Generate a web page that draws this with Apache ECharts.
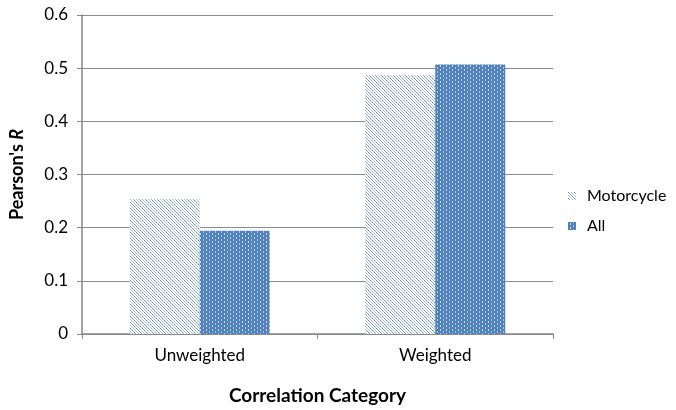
<!DOCTYPE html>
<html>
<head>
<meta charset="utf-8">
<script src="https://cdn.jsdelivr.net/npm/echarts@6/dist/echarts.min.js"></script>
<style>
  html, body { margin: 0; padding: 0; background: #fff; overflow: hidden; }
  #chart { width: 676px; height: 410px; }
</style>
</head>
<body>
<div id="chart"></div>
<script>
// Correlation strength by category
const categories = ['Unweighted', 'Weighted'];
const seriesNames = ['Motorcycle', 'All'];
const motorcycleValues = [0.254, 0.487];
const allValues = [0.194, 0.507];
const yTicks = { min: 0, max: 0.6, interval: 0.1 };

const FONT = 'Lato, "Open Sans", sans-serif';
const BLUE = '#4f81bd';

// Dotted diagonal hatch fill
function dottedHatch() {
  const c = document.createElement('canvas');
  c.width = 6; c.height = 6;
  const g = c.getContext('2d');
  g.fillStyle = '#ffffff';
  g.fillRect(0, 0, 6, 6);
  for (let i = 0; i < 6; i++) {
    g.fillStyle = (i % 2 === 0) ? 'rgba(79,129,189,0.95)' : 'rgba(79,129,189,0.65)';
    g.fillRect(i, i, 1, 1);
    g.fillStyle = 'rgba(79,129,189,0.5)';
    g.fillRect((i + 3) % 6, i, 1, 1);
  }
  return c;
}

// Dense blue grid fill
function denseGrid() {
  const c = document.createElement('canvas');
  c.width = 6; c.height = 4;
  const g = c.getContext('2d');
  g.fillStyle = BLUE;
  g.fillRect(0, 0, 6, 4);
  g.fillStyle = 'rgba(220,230,245,0.9)';
  g.fillRect(2, 1, 1, 2);
  g.fillStyle = 'rgba(200,215,240,0.8)';
  g.fillRect(5, 0, 1, 1);
  g.fillRect(5, 3, 1, 1);
  return c;
}

const chart = echarts.init(document.getElementById('chart'), null, { renderer: 'canvas' });

chart.setOption({
  animation: false,
  backgroundColor: '#ffffff',
  textStyle: { fontFamily: FONT },
  grid: { left: 71, right: 123, top: 15, bottom: 67, containLabel: false },
  legend: {
    orient: 'vertical',
    left: 568,
    top: 186,
    padding: 0,
    itemWidth: 8,
    itemHeight: 8,
    itemGap: 10,
    icon: 'rect',
    textStyle: { fontFamily: FONT, fontSize: 16, color: '#000', lineHeight: 20, padding: [0, 0, 0, 6] },
    data: seriesNames
  },
  xAxis: {
    type: 'category',
    data: categories,
    name: 'Correlation Category',
    nameLocation: 'middle',
    nameGap: 52,
    nameTextStyle: { fontFamily: FONT, fontSize: 19, fontWeight: 'bold', color: '#000' },
    axisLine: { lineStyle: { color: '#868686', width: 1.5 } },
    axisTick: { show: true, length: 5, alignWithLabel: false, lineStyle: { color: '#868686' } },
    axisLabel: { fontFamily: FONT, fontSize: 17, color: '#000', margin: 13 }
  },
  yAxis: {
    type: 'value',
    min: yTicks.min,
    max: yTicks.max,
    interval: yTicks.interval,
    name: "{b|Pearson's }{i|R}",
    nameLocation: 'middle',
    nameGap: 56,
    nameRotate: 90,
    nameTextStyle: {
      fontSize: 18,
      fontWeight: 'bold',
      fontFamily: FONT,
      rich: {
        b: { fontFamily: FONT, fontSize: 18, fontWeight: 'bold', color: '#000' },
        i: { fontFamily: FONT, fontSize: 18, fontWeight: 'bold', fontStyle: 'italic', color: '#000' }
      }
    },
    axisLine: { show: true, lineStyle: { color: '#868686', width: 1.5 } },
    axisTick: { show: true, length: 5, lineStyle: { color: '#868686' } },
    splitLine: { lineStyle: { color: '#8c8c8c', width: 1 } },
    axisLabel: {
      fontFamily: FONT, fontSize: 17, color: '#000', margin: 14,
      formatter: v => (Math.round(v * 10) / 10).toString()
    }
  },
  series: [
    {
      name: seriesNames[0],
      type: 'bar',
      data: motorcycleValues,
      barWidth: 70,
      barGap: '0%',
      itemStyle: { color: { image: dottedHatch(), repeat: 'repeat' } }
    },
    {
      name: seriesNames[1],
      type: 'bar',
      data: allValues,
      barWidth: 70,
      barGap: '0%',
      itemStyle: { color: { image: denseGrid(), repeat: 'repeat' } }
    }
  ]
});
</script>
</body>
</html>
